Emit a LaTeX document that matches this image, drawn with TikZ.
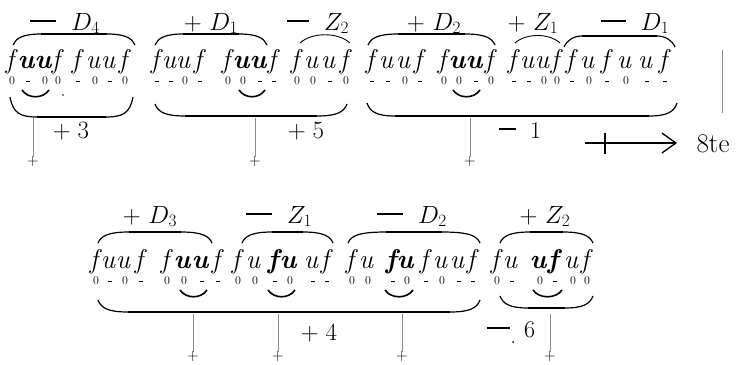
\documentclass[tikz,border=0pt]{standalone}
\usepackage{fontspec}
\usetikzlibrary{arrows.meta}
\tikzset{
 let/.style={anchor=base,inner sep=0pt,font=\fontsize{27}{27}\selectfont\itshape},
 beat/.style={anchor=base,inner sep=0pt,font=\fontsize{12}{12}\selectfont},
 lab/.style={anchor=base,inner sep=0pt,font=\fontsize{25}{25}\selectfont},
 sumlab/.style={anchor=base,inner sep=0pt,font=\fontsize{24}{24}\selectfont},
 plus/.style={inner sep=0pt,font=\fontsize{16}{16}\selectfont},
 thinl/.style={line width=1.2pt},
 thickl/.style={line width=2.8pt},
 smile/.style={line width=1.6pt},
 tick/.style={line width=0.6pt,black!45},
}
\newcommand\B[1]{\textbf{#1}}
\newcommand\bd{\rule[2pt]{4.5pt}{1pt}}
\newcommand\ldash[1]{\rule[7.8pt]{#1}{1.8pt}}
\newcommand\obr[5]{%
 \draw[thinl] (#1,#3) .. controls (#1+3,#4+4) and (#1+10,#4) .. (#1+#5,#4) -- (#2-#5,#4) .. controls (#2-10,#4) and (#2-3,#4+4) .. (#2,#3);
 \draw[thickl] (#1+#5,#4) -- (#2-#5,#4);}
\newcommand\ubr[5]{%
 \draw[thinl] (#1,#3) .. controls (#1+3,#4-4) and (#1+10,#4) .. (#1+#5,#4) -- (#2-#5,#4) .. controls (#2-10,#4) and (#2-3,#4-4) .. (#2,#3);
 \draw[thickl] (#1+#5,#4) -- (#2-#5,#4);}
\newcommand\smilearc[3]{%
 \draw[smile] (#1,#3) .. controls (#1+6,#3+9) and (#2-6,#3+9) .. (#2,#3);}
\begin{document}
\begin{tikzpicture}[x=1pt,y=-1pt]
\useasboundingbox (0,0) rectangle (744,364);
% ---------------- top row ----------------
\foreach \x/\l/\b [count=\i] in {
 12/f/0, 28/\B{u}/\bd, 45/\B{u}/0, 58/f/0,
 78/f/\bd, 95/u/0, 110/u/\bd, 125/f/0,
 157/f/\bd, 171/u/\bd, 185/u/0, 200/f/\bd,
 228/f/0, 243/\B{u}/0, 260/\B{u}/\bd, 274/f/\bd,
 297/f/0, 313/u/0, 330/u/\bd, 346/f/0,
 372/f/\bd, 388/u/\bd, 405/u/0, 420/f/\bd,
 444/f/0, 459/\B{u}/0, 476/\B{u}/\bd, 491/f/0,
 514/f/\bd, 529/u/\bd, 544/u/0, 557/f/0,
 572/f/\bd, 589/u/0, 607/f/\bd, 626/u/0, 647/u/\bd, 665/f/\bd} {
 \node[let] (t\i) at (\x-2,68) {\l};
 \node[beat] (tb\i) at (\x,84) {\b};
}
\fill (63,95) circle (0.8);
% labels
\node[lab] (lD4) at (65,30) {\ldash{26pt}\ \ $D_4$};
\node[lab] (lD1) at (211,30) {$+\ D_1$};
\node[lab] (lZ2) at (318,30) {\ldash{22pt}\ \ $Z_2$};
\node[lab] (lD2) at (434,30) {$+\ D_2$};
\node[lab] (lZ1) at (533,30) {$+\ Z_1$};
\node[lab] (lD1b) at (635,30) {\ldash{25pt}\ \ $D_1$};
% over braces
\obr{13}{135}{45}{34}{28}
\obr{155}{267}{45}{34}{28}
\draw[line width=0.9pt] (300,43) .. controls (312,32) and (338,32) .. (350,43);
\obr{368}{495}{45}{34}{30}
\draw[line width=0.9pt] (515,43) .. controls (526,33) and (549,33) .. (560,43);
\obr{564}{675}{47}{36}{18}
% smiles
\smilearc{22}{49}{90}
\smilearc{239}{265}{90}
\smilearc{453}{480}{90}
% under braces
\ubr{10}{133}{97}{117}{27}
\ubr{155}{347}{104}{116}{30}
\ubr{367}{677}{103}{116}{28}
% sums
\node[sumlab] (s3) at (71,138) {$+\;3$};
\node[sumlab] (s5) at (306,138) {$+\;5$};
\node[sumlab] (s1) at (520,138) {\ldash{17pt}\ \ 1};
% verticals and plus marks
\foreach \x [count=\i] in {33,255,470} {
 \coordinate (tv\i) at (\x,118);
 \node[plus] (tp\i) at (\x,162) {+};
 \draw[tick] (tv\i) -- (tp\i.north);
}
% arrow 8te
\coordinate (aS) at (585,143);
\coordinate (aE) at (677,143);
\draw[line width=1.3pt,-{Straight Barb[length=14pt,width=20pt,line width=1.3pt]}] (aS) -- (aE);
\coordinate (cT) at (605,133);
\coordinate (cB) at (605,154);
\draw[line width=2pt] (cT) -- (cB);
\node[inner sep=0pt,font=\fontsize{27}{27}\selectfont] (ote) at (713,144) {8te};
\coordinate (rT) at (722,50);
\coordinate (rB) at (722,113);
\draw[tick] (rT) -- (rB);
% ---------------- bottom row ----------------
\foreach \x/\l/\b [count=\i] in {
 96/f/0, 110/u/\bd, 125/u/0, 141/f/\bd,
 167/f/0, 184/\B{u}/0, 202/\B{u}/\bd, 218/f/\bd,
 238/f/0, 255/u/0, 275/\B{f}/\bd, 290/\B{u}/0, 313/u/\bd, 327/f/\bd,
 352/f/0, 368/u/0, 393/\B{f}/\bd, 407/\B{u}/0, 426/f/\bd, 442/u/0, 459/u/\bd, 473/f/\bd,
 497/f/0, 512/u/\bd, 540/\B{u}/0, 555/\B{f}/\bd, 573/u/0, 587/f/0} {
 \node[let] (b\i) at (\x-2,268) {\l};
 \node[beat] (bb\i) at (\x,284) {\b};
}
\node[lab] (mD3) at (150,223) {$+\ D_3$};
\node[lab] (mZ1) at (279,223) {\ldash{26pt}\ \ $Z_1$};
\node[lab] (mD2) at (412,223) {\ldash{26pt}\ \ $D_2$};
\node[lab] (mZ2) at (545,223) {$+\ Z_2$};
\obr{98}{212}{243}{232}{31}
\obr{242}{333}{243}{232}{30}
\obr{348}{480}{243}{232}{38}
\obr{500}{593}{243}{232}{30}
\smilearc{180}{207}{290}
\smilearc{268}{295}{290}
\smilearc{385}{413}{290}
\smilearc{533}{562}{290}
\ubr{98}{480}{300}{312}{30}
\ubr{500}{593}{296}{308}{28}
\node[sumlab] (s4) at (319,340) {$+\;4$};
\node[sumlab] (s6) at (511,337) {\ldash{23pt}\ \ 6};
\fill (513,342) circle (1);
\foreach \x [count=\i] in {193,278,402,550} {
 \coordinate (bv\i) at (\x,314);
 \node[plus] (bp\i) at (\x,357) {+};
 \draw[tick] (bv\i) -- (bp\i.north);
}
\end{tikzpicture}
\end{document}
